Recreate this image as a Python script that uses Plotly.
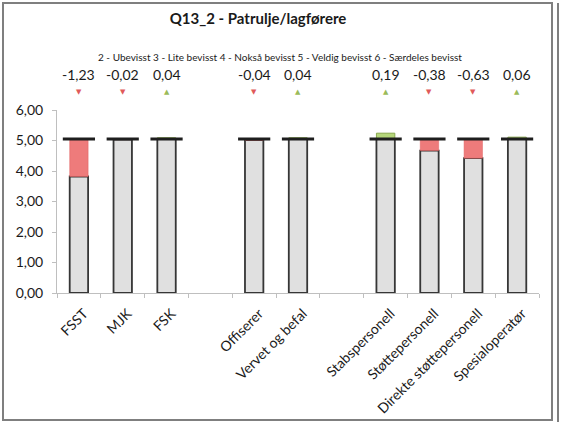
import plotly.graph_objects as go

# categories (blank slots are spacers between groups)
categories = ["FSST", "MJK", "FSK", " ", "Offiserer", "Vervet og befal", "  ",
              "Stabspersonell", "Støttepersonell", "Direkte støttepersonell", "Spesialoperatør"]
deltas = [-1.23, -0.02, 0.04, None, -0.04, 0.04, None, 0.19, -0.38, -0.63, 0.06]
baseline = 5.05

title = "Q13_2 - Patrulje/lagførere"
subtitle = "2 - Ubevisst 3 - Lite bevisst 4 - Nokså bevisst 5 - Veldig bevisst 6 - Særdeles bevisst"

FONT = "Lato"

gray_y, red_y, red_base, green_y, line_y = [], [], [], [], []
for d in deltas:
    if d is None:
        gray_y.append(None); red_y.append(None); red_base.append(None)
        green_y.append(None); line_y.append(None)
        continue
    gray_y.append(min(baseline, baseline + d))
    red_y.append(-d if d < 0 else None)
    red_base.append(baseline + d if d < 0 else None)
    green_y.append(d if d > 0 else None)
    line_y.append(baseline)

fig = go.Figure()

fig.add_trace(go.Bar(
    x=categories, y=gray_y, width=0.42,
    marker={"color": "#e0e0e0", "line": {"color": "#363636", "width": 1.8}},
    showlegend=False, hoverinfo="skip"
))
fig.add_trace(go.Bar(
    x=categories, y=red_y, base=red_base, width=0.42,
    marker={"color": "#ee7b7b", "line": {"color": "#e06060", "width": 0.5}},
    showlegend=False, hoverinfo="skip"
))
fig.add_trace(go.Bar(
    x=categories, y=green_y, base=baseline, width=0.42,
    marker={"color": "#b5d67a", "line": {"color": "#8aa84f", "width": 1}},
    showlegend=False, hoverinfo="skip"
))
# black mean line on top of each bar
fig.add_trace(go.Scatter(
    x=categories, y=line_y, mode="markers",
    marker={"symbol": "line-ew", "size": 23, "line": {"color": "#1e1e1e", "width": 3}},
    showlegend=False, hoverinfo="skip", cliponaxis=False
))

# delta labels and arrows above the plot
annotations = [{
    "text": subtitle, "xref": "paper", "yref": "paper",
    "x": (280 - 57) / 482, "y": (293 - 57) / 183,
    "showarrow": False, "xanchor": "center", "yanchor": "middle",
    "font": {"family": FONT, "size": 10, "color": "#1a1a1a"}
}]
for c, d in zip(categories, deltas):
    if d is None:
        continue
    annotations.append({
        "text": f"{d:.2f}".replace(".", ","), "xref": "x", "yref": "paper",
        "x": c, "y": (293 - 74) / 183, "showarrow": False,
        "xanchor": "center", "yanchor": "middle",
        "font": {"family": FONT, "size": 14, "color": "#1a1a1a"}
    })
    annotations.append({
        "text": "▼" if d < 0 else "▲", "xref": "x", "yref": "paper",
        "x": c, "y": (293 - 92) / 183, "showarrow": False,
        "xanchor": "center", "yanchor": "middle",
        "font": {"family": "DejaVu Sans", "size": 7,
                 "color": "#e05a5a" if d < 0 else "#9bbb59"}
    })

fig.update_layout(
    width=563, height=422,
    margin={"l": 57, "r": 24, "t": 110, "b": 129},
    paper_bgcolor="white", plot_bgcolor="white",
    barmode="overlay",
    separators=", ",
    font={"family": FONT, "size": 13, "color": "#1a1a1a"},
    title={"text": f"<b>{title}</b>", "x": 258 / 563, "xanchor": "center",
           "y": 1 - 19 / 422, "yanchor": "middle",
           "font": {"family": FONT, "size": 15, "color": "#1a1a1a"}},
    annotations=annotations,
    shapes=[
        {"type": "rect", "xref": "paper", "yref": "paper",
         "x0": (3 - 57) / 482, "x1": (552 - 57) / 482,
         "y0": (293 - 420) / 183, "y1": (293 - 3) / 183,
         "line": {"color": "#7f7f7f", "width": 2}},
        {"type": "line", "xref": "paper", "yref": "paper",
         "x0": (558 - 57) / 482, "x1": (558 - 57) / 482,
         "y0": (293 - 422) / 183, "y1": (293 - 3) / 183,
         "line": {"color": "#7f7f7f", "width": 2}},
    ],
)
fig.update_xaxes(
    type="category", categoryorder="array", categoryarray=categories,
    range=[-0.5, len(categories) - 0.5], automargin=False,
    tickangle=-45, tickson="boundaries", ticks="outside", ticklen=4,
    tickcolor="#bfbfbf", showline=True, linecolor="#bfbfbf", linewidth=1,
    showgrid=False, ticklabelshift=5, ticklabelstandoff=6,
    tickfont={"family": FONT, "size": 14, "color": "#1a1a1a"},
)
fig.update_yaxes(
    range=[0, 6], dtick=1, tickformat=".2f", ticks="outside", ticklen=4,
    tickcolor="#bfbfbf", showline=True, linecolor="#bfbfbf", linewidth=1,
    showgrid=False, zeroline=False, ticklabelstandoff=6, automargin=False,
    tickfont={"family": FONT, "size": 14, "color": "#1a1a1a"},
)

fig.write_html("out.html", config={"displayModeBar": False},
               post_script="document.body.style.margin='0';")
